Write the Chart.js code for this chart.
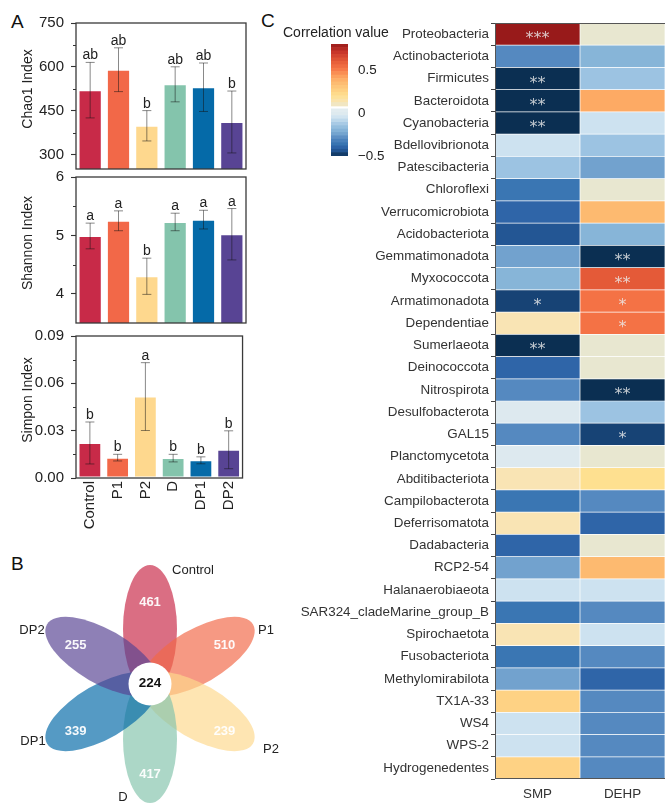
<!DOCTYPE html>
<html>
<head>
<meta charset="utf-8">
<script src="https://cdn.jsdelivr.net/npm/chart.js@4.4.1/dist/chart.umd.min.js"></script>
<style>
  html, body { margin: 0; padding: 0; background: #fff; overflow: hidden; }
  #fig { position: relative; width: 665px; height: 804px; background: #fff;
         font-family: "Liberation Sans", Arial, sans-serif; }
  #fig canvas { position: absolute; }
  .panel { position: absolute; font-size: 19px; line-height: 19px; color: #111; }
</style>
</head>
<body>
<div id="fig">
  <div class="panel" style="left:11px;top:12px">A</div>
  <div class="panel" style="left:11px;top:554px">B</div>
  <div class="panel" style="left:261px;top:11px">C</div>
  <canvas id="chao"    width="250" height="185" style="left:0;top:0"></canvas>
  <canvas id="shannon" width="250" height="179" style="left:0;top:160px"></canvas>
  <canvas id="simpson" width="250" height="225" style="left:0;top:320px"></canvas>
  <canvas id="venn"    width="280" height="264" style="left:0;top:540px"></canvas>
  <canvas id="heat"    width="395" height="804" style="left:270px;top:0"></canvas>
  <canvas id="cbar"    width="130" height="154" style="left:270px;top:20px"></canvas>
</div>
<script>
// ---------- alpha diversity (panel A) ----------
const groups = ['Control', 'P1', 'P2', 'D', 'DP1', 'DP2'];
const groupColors = ['#c82a48', '#f26848', '#fed88e', '#84c4ac', '#056aa8', '#584494'];

const chao1Mean    = [520, 590, 398, 540, 530, 411];
const chao1Err     = [95, 75, 52, 60, 83, 106];
const chao1Letters = ['ab', 'ab', 'b', 'ab', 'ab', 'b'];
const chao1Ticks   = [300, 450, 600, 750];

const shannonMean    = [4.99, 5.25, 4.30, 5.23, 5.27, 5.02];
const shannonErr     = [0.22, 0.17, 0.31, 0.15, 0.16, 0.44];
const shannonLetters = ['a', 'a', 'b', 'a', 'a', 'a'];
const shannonTicks   = [4, 5, 6];

const simpsonMean    = [0.0222, 0.0129, 0.0516, 0.0126, 0.0112, 0.0179];
const simpsonErr     = [0.0133, 0.0021, 0.0215, 0.0024, 0.0022, 0.0120];
const simpsonLetters = ['b', 'b', 'a', 'b', 'b', 'b'];
const simpsonTicks   = [0, 0.03, 0.06, 0.09];

// ---------- shared OTUs (panel B) ----------
const vennSets   = ['Control', 'P1', 'P2', 'D', 'DP1', 'DP2'];
const vennUnique = [461, 510, 239, 417, 339, 255];
const vennCore   = 224;

// ---------- phylum correlations (panel C) ----------
const factors = ['SMP', 'DEHP'];
const phyla = ['Proteobacteria', 'Actinobacteriota', 'Firmicutes', 'Bacteroidota', 'Cyanobacteria',
  'Bdellovibrionota', 'Patescibacteria', 'Chloroflexi', 'Verrucomicrobiota', 'Acidobacteriota',
  'Gemmatimonadota', 'Myxococcota', 'Armatimonadota', 'Dependentiae', 'Sumerlaeota', 'Deinococcota',
  'Nitrospirota', 'Desulfobacterota', 'GAL15', 'Planctomycetota', 'Abditibacteriota', 'Campilobacterota',
  'Deferrisomatota', 'Dadabacteria', 'RCP2-54', 'Halanaerobiaeota', 'SAR324_cladeMarine_group_B',
  'Spirochaetota', 'Fusobacteriota', 'Methylomirabilota', 'TX1A-33', 'WS4', 'WPS-2', 'Hydrogenedentes'];
const smpCorr = [0.80, -0.30, -0.50, -0.50, -0.50, -0.06, -0.15, -0.36, -0.40, -0.44,
  -0.25, -0.20, -0.47, 0.12, -0.50, -0.40, -0.30, -0.02, -0.30, -0.02,
  0.12, -0.36, 0.12, -0.40, -0.25, -0.06, -0.36, 0.12, -0.36, -0.25,
  0.25, -0.06, -0.06, 0.25];
const dehpCorr = [0.08, -0.20, -0.15, 0.40, -0.06, -0.15, -0.25, 0.08, 0.35, -0.20,
  -0.50, 0.60, 0.52, 0.52, 0.08, 0.08, -0.50, -0.15, -0.47, 0.08,
  0.20, -0.30, -0.40, 0.08, 0.35, -0.06, -0.30, -0.06, -0.30, -0.40,
  -0.30, -0.30, -0.30, -0.30];
const smpSig = ['***', '', '**', '**', '**', '', '', '', '', '', '', '', '*', '', '**', '',
  '', '', '', '', '', '', '', '', '', '', '', '', '', '', '', '', '', ''];
const dehpSig = ['', '', '', '', '', '', '', '', '', '', '**', '**', '*', '*', '', '',
  '**', '', '*', '', '', '', '', '', '', '', '', '', '', '', '', '', '', ''];
const colorbarTicks = [-0.5, 0, 0.5];
const colorbarRange = [-0.5, 0.8];

// ---------- helpers ----------
const FONT = '"Liberation Sans", Arial, sans-serif';
Chart.defaults.font.family = FONT;
Chart.defaults.color = '#222';

const corrStops = [
  [-0.50, '#0b2f52'], [-0.47, '#174375'], [-0.44, '#235694'], [-0.40, '#2f65a8'],
  [-0.36, '#3a76b3'], [-0.30, '#5589c0'], [-0.25, '#72a2ce'], [-0.20, '#87b5d8'],
  [-0.15, '#9cc3e2'], [-0.06, '#cde2f0'], [-0.02, '#dde9ef'], [0.045, '#e4edf1'],
  [0.08, '#e8e7d0'], [0.12, '#f9e4b4'], [0.20, '#fee090'], [0.25, '#fed284'],
  [0.35, '#fdba70'], [0.40, '#fdaa64'], [0.52, '#f47245'], [0.60, '#e45a38'],
  [0.70, '#c8362a'], [0.80, '#981a1a']];
function hexRgb(h) { return [1, 3, 5].map(i => parseInt(h.substr(i, 2), 16)); }
function corrColor(v) {
  if (v <= corrStops[0][0]) return corrStops[0][1];
  for (let i = 1; i < corrStops.length; i++) {
    const [v1, c1] = corrStops[i];
    if (v <= v1) {
      const [v0, c0] = corrStops[i - 1];
      const t = (v - v0) / (v1 - v0);
      const a = hexRgb(c0), b = hexRgb(c1);
      return 'rgb(' + a.map((x, k) => Math.round(x + (b[k] - x) * t)).join(',') + ')';
    }
  }
  return corrStops[corrStops.length - 1][1];
}
function withAlpha(hex, a) { const [r, g, b] = hexRgb(hex); return `rgba(${r},${g},${b},${a})`; }

// error bars, significance letters, axis title, frame and minor ticks of an alpha-diversity panel
const diversityDecor = {
  id: 'diversityDecor',
  afterDatasetsDraw(chart, args, opts) {
    const { ctx, chartArea: a } = chart;
    const y = chart.scales.y;
    const ds = chart.data.datasets[0];
    const meta = chart.getDatasetMeta(0);
    ctx.save();
    meta.data.forEach((bar, i) => {
      const v = ds.data[i], e = opts.errors[i];
      const px = bar.x, top = y.getPixelForValue(v + e), bot = y.getPixelForValue(v - e);
      ctx.strokeStyle = 'rgba(20,20,20,0.5)';
      ctx.lineWidth = 1;
      ctx.beginPath();
      ctx.moveTo(px, top); ctx.lineTo(px, bot);
      ctx.moveTo(px - 4.5, top); ctx.lineTo(px + 4.5, top);
      ctx.moveTo(px - 4.5, bot); ctx.lineTo(px + 4.5, bot);
      ctx.stroke();
      ctx.fillStyle = '#222';
      ctx.font = '14px ' + FONT;
      ctx.textAlign = 'center';
      ctx.textBaseline = 'alphabetic';
      ctx.fillText(opts.letters[i], px, top - 3);
    });
    // minor ticks halfway between labelled ticks
    const maj = opts.majors;
    ctx.strokeStyle = '#333';
    ctx.lineWidth = 1.1;
    ctx.beginPath();
    for (let i = 0; i < maj.length - 1; i++) {
      const py = Math.round(y.getPixelForValue((maj[i] + maj[i + 1]) / 2)) + 0.5;
      ctx.moveTo(a.left - 3, py); ctx.lineTo(a.left, py);
    }
    ctx.stroke();
    ctx.strokeStyle = '#3a3a3a';
    ctx.lineWidth = 1.3;
    ctx.strokeRect(a.left, a.top, a.right - a.left, a.bottom - a.top);
    // y axis title, set slightly above the plot's middle
    ctx.translate(28, (a.top + a.bottom) / 2 - 7);
    ctx.rotate(-Math.PI / 2);
    ctx.font = '14px ' + FONT;
    ctx.fillStyle = '#222';
    ctx.textAlign = 'center';
    ctx.textBaseline = 'middle';
    ctx.fillText(opts.title, 0, 0);
    ctx.restore();
  }
};

function diversityChart(id, mean, err, letters, majors, yMin, yMax, title, fmt, padTop, showX) {
  return new Chart(document.getElementById(id), {
    type: 'bar',
    data: {
      labels: groups,
      datasets: [{
        data: mean,
        backgroundColor: groupColors,
        borderColor: 'rgba(255,255,255,0.35)',
        borderWidth: 1,
        borderSkipped: false,
        barPercentage: 0.82,
        categoryPercentage: 1
      }]
    },
    options: {
      responsive: false,
      animation: false,
      events: [],
      layout: { padding: { top: padTop, right: 4, bottom: showX ? 0 : 16, left: 0 } },
      plugins: {
        legend: { display: false },
        tooltip: { enabled: false },
        diversityDecor: { errors: err, letters: letters, majors: majors, title: title }
      },
      scales: {
        x: {
          display: showX,
          grid: { display: false, drawTicks: false },
          border: { display: false },
          ticks: { minRotation: 90, maxRotation: 90, padding: 3, color: '#222', font: { size: 15 } },
          afterFit: s => { if (showX) s.height = 67; }
        },
        y: {
          min: yMin,
          max: yMax,
          afterBuildTicks: s => { s.ticks = majors.map(v => ({ value: v })); },
          afterFit: s => { s.width = 76; },
          ticks: { padding: 7, color: '#222', font: { size: 15 }, callback: v => fmt(v) },
          grid: { drawOnChartArea: false, tickLength: 5, tickColor: '#333', tickWidth: 1.1 },
          border: { display: false }
        }
      }
    },
    plugins: [diversityDecor]
  });
}

diversityChart('chao', chao1Mean, chao1Err, chao1Letters, chao1Ticks, 250, 750,
  'Chao1 Index', v => String(v), 23, false);
diversityChart('shannon', shannonMean, shannonErr, shannonLetters, shannonTicks, 3.5, 6,
  'Shannon Index', v => String(v), 17, false);
diversityChart('simpson', simpsonMean, simpsonErr, simpsonLetters, simpsonTicks, 0, 0.09,
  'Simpon Index', v => v.toFixed(2), 12, true);

// ---------- flower diagram ----------
const PETAL_OFFSET = 55, PETAL_A = 64, PETAL_B = 27, LABEL_R = 86, CORE_R = 21.5;
const petalAngle = i => (90 - 60 * i) * Math.PI / 180;
const setNameOffsets = [[43, 114], [116, 54], [121, -65], [-27, -113], [-117, -57], [-118, 54]];

const flowerPlugin = {
  id: 'flower',
  beforeDatasetsDraw(chart) {
    const { ctx } = chart;
    const x = chart.scales.x, y = chart.scales.y;
    const unit = x.getPixelForValue(1) - x.getPixelForValue(0);
    ctx.save();
    vennSets.forEach((s, i) => {
      const th = petalAngle(i);
      const cx = x.getPixelForValue(PETAL_OFFSET * Math.cos(th));
      const cy = y.getPixelForValue(PETAL_OFFSET * Math.sin(th));
      ctx.beginPath();
      ctx.ellipse(cx, cy, PETAL_A * unit, PETAL_B * unit, -th, 0, Math.PI * 2);
      ctx.fillStyle = withAlpha(groupColors[i], 0.68);
      ctx.fill();
    });
    ctx.beginPath();
    ctx.arc(x.getPixelForValue(0), y.getPixelForValue(0), CORE_R * unit, 0, Math.PI * 2);
    ctx.fillStyle = '#fff';
    ctx.fill();
    ctx.restore();
  },
  afterDatasetsDraw(chart) {
    const { ctx } = chart;
    const x = chart.scales.x, y = chart.scales.y;
    const meta = chart.getDatasetMeta(0);
    ctx.save();
    ctx.textAlign = 'center';
    ctx.textBaseline = 'middle';
    ctx.font = 'bold 13px ' + FONT;
    ctx.fillStyle = 'rgba(255,255,255,0.95)';
    meta.data.forEach((pt, i) => ctx.fillText(String(vennUnique[i]), pt.x, pt.y + 4));
    ctx.fillStyle = '#111';
    ctx.font = 'bold 13.5px ' + FONT;
    ctx.fillText(String(vennCore), x.getPixelForValue(0), y.getPixelForValue(0) - 1);
    ctx.font = '13px ' + FONT;
    ctx.fillStyle = '#222';
    vennSets.forEach((s, i) => {
      const [ox, oy] = setNameOffsets[i];
      ctx.fillText(s, x.getPixelForValue(ox), y.getPixelForValue(oy));
    });
    ctx.restore();
  }
};

new Chart(document.getElementById('venn'), {
  type: 'scatter',
  data: {
    datasets: [{
      data: vennUnique.map((n, i) => ({ x: LABEL_R * Math.cos(petalAngle(i)), y: LABEL_R * Math.sin(petalAngle(i)) })),
      pointRadius: 0
    }]
  },
  options: {
    responsive: false,
    animation: false,
    events: [],
    layout: { padding: 0 },
    plugins: { legend: { display: false }, tooltip: { enabled: false } },
    scales: {
      x: { type: 'linear', display: false, min: -150, max: 130 },
      y: { type: 'linear', display: false, min: -120, max: 144 }
    }
  },
  plugins: [flowerPlugin]
});

// ---------- correlation heatmap ----------
const heatDecor = {
  id: 'heatDecor',
  afterDatasetsDraw(chart) {
    const { ctx, chartArea: a } = chart;
    const x = chart.scales.x, y = chart.scales.y;
    ctx.save();
    ctx.textAlign = 'center';
    ctx.textBaseline = 'alphabetic';
    ctx.font = '16px "DejaVu Sans", sans-serif';
    ctx.fillStyle = 'rgba(236,236,236,0.82)';
    [smpSig, dehpSig].forEach((sig, c) => {
      sig.forEach((s, r) => {
        if (!s) return;
        ctx.fillText(s, x.getPixelForValue(c + 0.5), y.getPixelForValue(r) + 9);
      });
    });
    ctx.strokeStyle = '#555';
    ctx.lineWidth = 1;
    ctx.strokeRect(a.left + 0.5, a.top + 0.5, a.right - a.left, a.bottom - a.top - 1);
    ctx.restore();
  }
};

new Chart(document.getElementById('heat'), {
  type: 'bar',
  data: {
    labels: phyla,
    datasets: [smpCorr, dehpCorr].map((vals, c) => ({
      label: factors[c],
      data: vals.map(() => [c, c + 1]),
      backgroundColor: vals.map(corrColor),
      borderColor: 'rgba(255,255,255,0.16)',
      borderWidth: 0.7,
      borderSkipped: false,
      grouped: false,
      barPercentage: 1,
      categoryPercentage: 1
    }))
  },
  options: {
    indexAxis: 'y',
    responsive: false,
    animation: false,
    events: [],
    layout: { padding: { top: 23, right: 0, bottom: 0, left: 0 } },
    plugins: { legend: { display: false }, tooltip: { enabled: false } },
    scales: {
      x: {
        type: 'linear',
        min: 0,
        max: factors.length,
        afterBuildTicks: s => { s.ticks = factors.map((f, i) => ({ value: i + 0.5 })); },
        afterFit: s => { s.height = 25; },
        ticks: { autoSkip: false, maxRotation: 0, padding: 7, color: '#333', font: { size: 13.4 },
                 callback: (v, i) => factors[i] },
        grid: { display: false, drawTicks: false },
        border: { display: false }
      },
      y: {
        afterFit: s => { s.width = 225; },
        ticks: { autoSkip: false, padding: 2, color: '#333', font: { size: 13.4 } },
        grid: { drawOnChartArea: false, tickLength: 4, tickColor: '#444', tickWidth: 1 },
        border: { display: false }
      }
    }
  },
  plugins: [heatDecor]
});

// ---------- colour bar ----------
const cbBands = [];
(function () {
  const negTop = 0.047, posBottom = 0.08, step = 0.04;
  const nNeg = Math.round((negTop - colorbarRange[0]) / step);
  const hNeg = (negTop - colorbarRange[0]) / nNeg;
  for (let k = 0; k < nNeg; k++) {
    const lo = colorbarRange[0] + k * hNeg, hi = lo + hNeg;
    cbBands.push([lo, hi]);
  }
  const nPos = Math.round((colorbarRange[1] - posBottom) / step);
  const hPos = (colorbarRange[1] - posBottom) / nPos;
  for (let k = 0; k < nPos; k++) {
    const lo = posBottom + k * hPos, hi = lo + hPos;
    cbBands.push([lo, hi]);
  }
})();

const cbTitle = {
  id: 'cbTitle',
  afterDraw(chart) {
    const { ctx } = chart;
    ctx.save();
    ctx.font = '14px ' + FONT;
    ctx.fillStyle = '#222';
    ctx.textAlign = 'left';
    ctx.textBaseline = 'middle';
    ctx.fillText('Correlation value', 13, 13);
    ctx.restore();
  }
};

new Chart(document.getElementById('cbar'), {
  type: 'bar',
  data: {
    labels: [''],
    datasets: cbBands.map(b => ({
      data: [b],
      backgroundColor: b[1] <= 0.05 ? corrColor(Math.min((b[0] + b[1]) / 2, 0.03)) : corrColor((b[0] + b[1]) / 2),
      borderWidth: 0,
      grouped: false,
      barPercentage: 1,
      categoryPercentage: 1
    }))
  },
  options: {
    responsive: false,
    animation: false,
    events: [],
    layout: { padding: { top: 24, left: 61, bottom: 18, right: 0 } },
    plugins: { legend: { display: false }, tooltip: { enabled: false } },
    scales: {
      x: { display: false },
      y: {
        position: 'right',
        min: colorbarRange[0],
        max: colorbarRange[1],
        afterBuildTicks: s => { s.ticks = colorbarTicks.map(v => ({ value: v })); },
        afterFit: s => { s.width = 52; },
        ticks: { padding: 10, color: '#222', font: { size: 13.4 },
                 callback: v => (v < 0 ? '\u2212' + Math.abs(v) : String(v)) },
        grid: { display: false, drawTicks: false },
        border: { display: false }
      }
    }
  },
  plugins: [cbTitle]
});
</script>
</body>
</html>
